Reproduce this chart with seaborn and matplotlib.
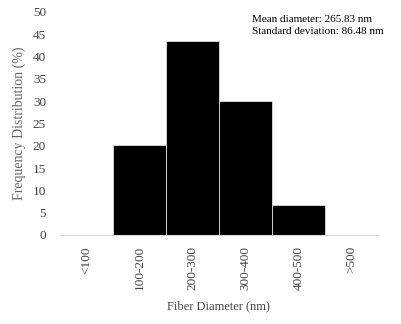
import matplotlib
matplotlib.use("Agg")
import matplotlib.pyplot as plt
import seaborn as sns
import pandas as pd

# data
categories = ["<100", "100-200", "200-300", "300-400", "400-500", ">500"]
frequency = [0, 20.2, 43.4, 30.0, 6.8, 0]

df = pd.DataFrame({"diameter": categories, "freq": frequency})

sns.set_style("white")
plt.rcParams["font.family"] = ["Liberation Serif", "DejaVu Serif"]

fig = plt.figure(figsize=(4.02, 3.24), dpi=100)
ax = fig.add_axes([0.149, 0.275, 0.791, 0.688])

sns.barplot(data=df, x="diameter", y="freq", color="black", width=1.0,
            edgecolor="#dddddd", linewidth=0.6, saturation=1, ax=ax)

ax.set_ylim(0, 50)
ax.set_xlim(-0.5, 5.5)
ax.set_yticks(range(0, 51, 5))
ax.tick_params(axis="both", length=0, labelsize=9.5, colors="#444444")
ax.tick_params(axis="y", pad=10)
ax.tick_params(axis="x", pad=8)
plt.setp(ax.get_xticklabels(), rotation=90)

for s in ["top", "right", "left"]:
    ax.spines[s].set_visible(False)
ax.spines["bottom"].set_color("#d9d9d9")
ax.spines["bottom"].set_linewidth(0.8)

ax.set_xlabel("Fiber Diameter (nm)", fontsize=9, color="#444444", labelpad=7)
ax.set_ylabel("Frequency Distribution (%)", fontsize=10, color="#666666", labelpad=5)

ax.text(0.604, 0.985, "Mean diameter: 265.83 nm\nStandard deviation: 86.48 nm",
        transform=ax.transAxes, fontsize=8, va="top", ha="left",
        linespacing=1.35, color="black")

fig.savefig("out.png", dpi=100)
